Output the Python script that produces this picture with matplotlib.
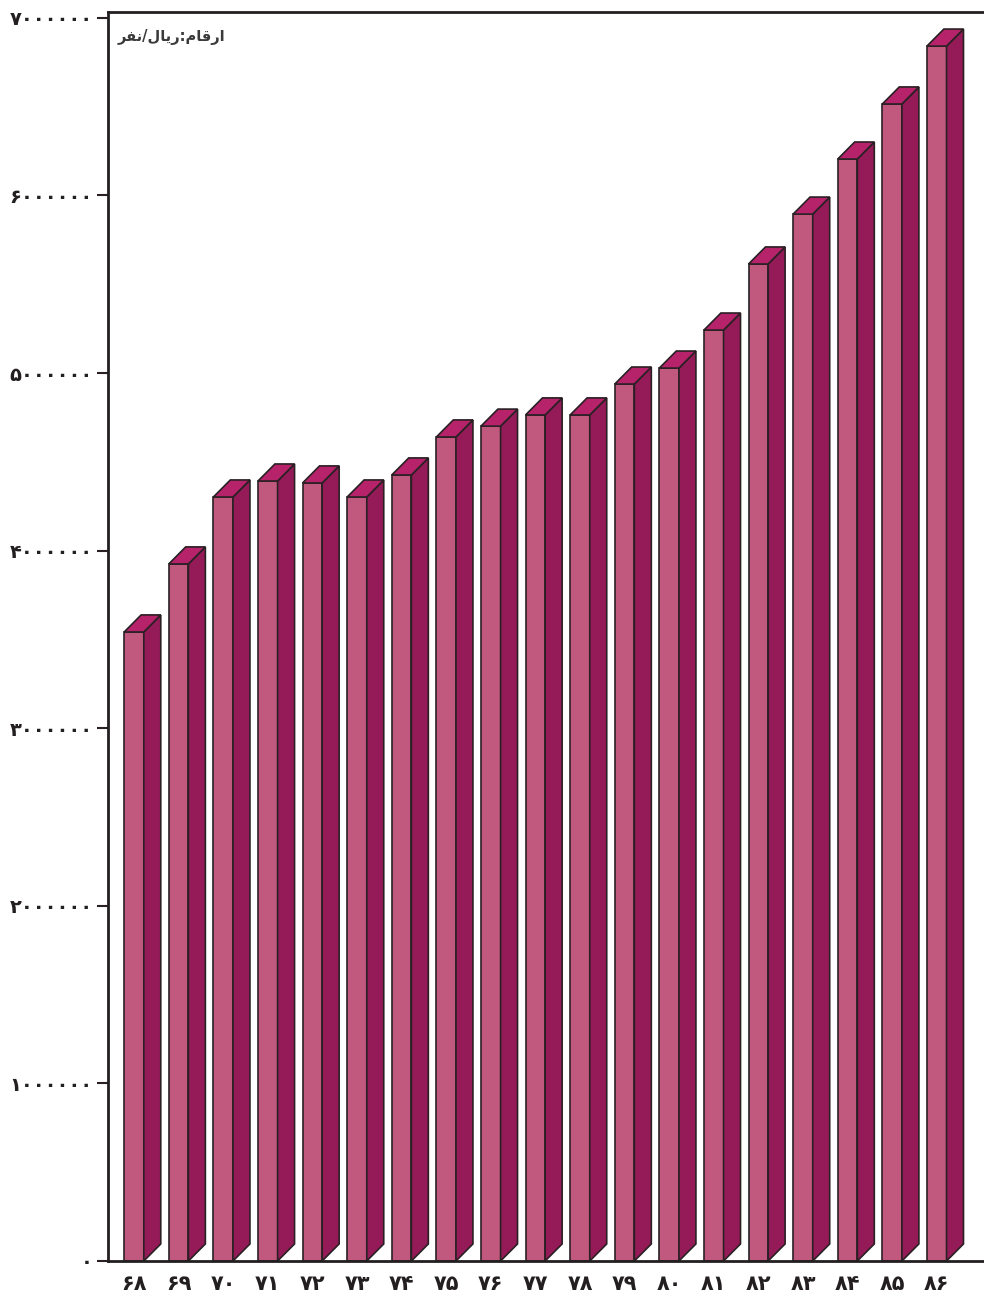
import matplotlib.pyplot as plt
from matplotlib.patches import Polygon

# years (Persian digits) and per-capita values (rial/person)
years = ["۶۸", "۶۹", "۷۰", "۷۱", "۷۲", "۷۳", "۷۴", "۷۵", "۷۶", "۷۷",
         "۷۸", "۷۹", "۸۰", "۸۱", "۸۲", "۸۳", "۸۴", "۸۵", "۸۶"]
values = [3542000, 3925000, 4302000, 4392000, 4381000, 4302000, 4426000,
          4640000, 4701000, 4764000, 4764000, 4938000, 5028000, 5242000,
          5614000, 5895000, 6205000, 6515000, 6841000]
yticks = [0, 1000000, 2000000, 3000000, 4000000, 5000000, 6000000, 7000000]
ytick_labels = ["۰", "۱۰۰۰۰۰۰", "۲۰۰۰۰۰۰", "۳۰۰۰۰۰۰", "۴۰۰۰۰۰۰",
                "۵۰۰۰۰۰۰", "۶۰۰۰۰۰۰", "۷۰۰۰۰۰۰"]
# "ارقام: ریال/نفر" written in shaped presentation forms, visual order
unit_label = "\uFEAE\uFED4\uFEE7/\uFEDD\uFE8E\uFBFE\uFEAD:\uFEE1\uFE8E\uFED7\uFEAD\uFE8D"

front_col = "#C1587E"
side_col = "#951B58"
top_col = "#B6236B"
edge_col = "#2A2024"

fig = plt.figure(figsize=(9.84, 12.98), dpi=100)
ax = fig.add_axes([108 / 984, 37 / 1298, 876 / 984, 1249 / 1298])

width = 0.44
dx = 0.38      # depth in x data units
dy = 96000     # depth in y data units

for i, v in enumerate(values):
    x0 = i - width / 2
    x1 = i + width / 2
    ax.add_patch(Polygon([(x0, 0), (x1, 0), (x1, v), (x0, v)], closed=True,
                         facecolor=front_col, edgecolor=edge_col, lw=1.2, zorder=2))
    ax.add_patch(Polygon([(x1, 0), (x1 + dx, dy), (x1 + dx, v + dy), (x1, v)], closed=True,
                         facecolor=side_col, edgecolor=edge_col, lw=1.2, zorder=2))
    ax.add_patch(Polygon([(x0, v), (x1, v), (x1 + dx, v + dy), (x0 + dx, v + dy)], closed=True,
                         facecolor=top_col, edgecolor=edge_col, lw=1.2, zorder=2))

ax.set_xlim(-0.583, 19.06)
ax.set_ylim(0, 7033000)

ax.set_yticks(yticks)
ax.set_yticklabels(ytick_labels, fontsize=14, fontweight="bold", color="#231F20")
ax.set_xticks(range(len(years)))
ax.set_xticklabels(years, fontsize=15, fontweight="bold", color="#231F20")
ax.tick_params(axis="y", length=8, width=1.5, color=edge_col, pad=3)
ax.tick_params(axis="x", length=0, pad=9)

for side in ["left", "top", "bottom"]:
    ax.spines[side].set_color("#231F20")
    ax.spines[side].set_linewidth(2)
    ax.spines[side].set_zorder(3)
ax.spines["right"].set_visible(False)

ax.text(0.011, 0.986, unit_label, transform=ax.transAxes, ha="left", va="top",
        fontsize=10.5, fontweight="bold", color="#3a3a3a")

fig.savefig("out.png", dpi=100)
